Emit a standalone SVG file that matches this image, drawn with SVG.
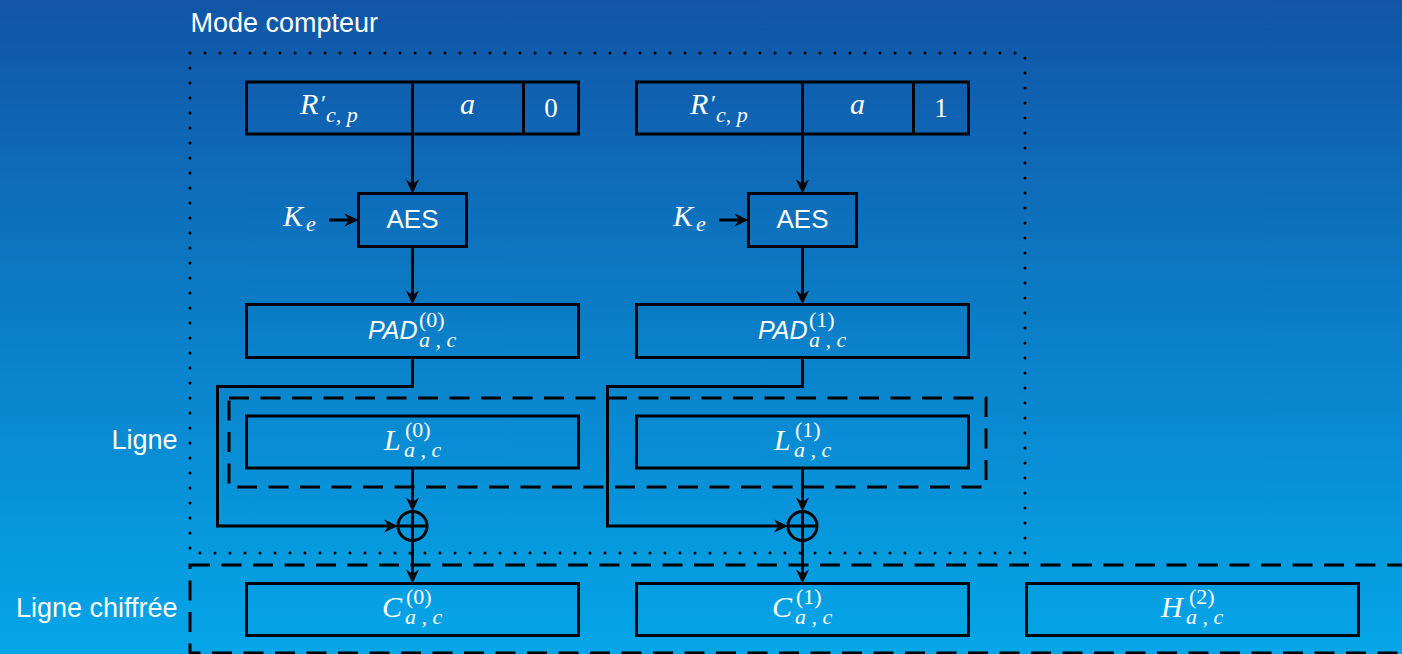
<svg xmlns="http://www.w3.org/2000/svg" width="1402" height="654" viewBox="0 0 1402 654">
  <defs>
    <linearGradient id="bg" x1="0" y1="0" x2="0" y2="1">
      <stop offset="0" stop-color="#1155a6"/>
      <stop offset="0.5" stop-color="#0b7ec8"/>
      <stop offset="1" stop-color="#04a6e8"/>
    </linearGradient>
    <marker id="arr" viewBox="-15 -7 16 14" refX="-8" refY="0" markerWidth="16" markerHeight="14" markerUnits="userSpaceOnUse" orient="auto">
      <path d="M0,0 L-14,-6.5 L-9.5,0 L-14,6.5 Z" fill="#000"/>
    </marker>
    <style>
      .box { fill: none; stroke: #000; stroke-width: 3; }
      .wire { fill: none; stroke: #000; stroke-width: 3; }
      .arrow { fill: none; stroke: #000; stroke-width: 3; marker-end: url(#arr); }
      .dotted { fill: none; stroke: #000; stroke-width: 3; stroke-dasharray: 0 15; stroke-linecap: round; }
      .dashed { fill: none; stroke: #000; stroke-width: 3; stroke-dasharray: 20 11.5; }
      .sans { font-family: "Liberation Sans", Arial, sans-serif; fill: #fff; }
      .mi { font-family: "Liberation Serif", "Times New Roman", serif; font-style: italic; fill: #fff; }
      .mn { font-family: "Liberation Serif", "Times New Roman", serif; font-style: normal; fill: #fff; }
      .big { font-size: 30px; }
      .scr { font-size: 22px; }
    </style>
  </defs>

  <rect x="0" y="0" width="1402" height="654" fill="url(#bg)"/>

  <!-- frames -->
  <g id="frames">
    <rect class="dotted" x="190" y="53" width="835" height="500"/>
    <rect class="dashed" x="229" y="398" width="757" height="89"/>
    <rect class="dashed" x="190" y="565" width="1300" height="88"/>
    <text class="sans" x="190.5" y="32" font-size="27">Mode compteur</text>
    <text class="sans" x="177.5" y="449" font-size="27" text-anchor="end">Ligne</text>
    <text class="sans" x="177.5" y="617" font-size="27" text-anchor="end">Ligne chiffrée</text>
  </g>

  <!-- chain 0 -->
  <g id="counter0">
    <rect class="box" x="246.5" y="82" width="332" height="52"/>
    <line class="wire" x1="412.5" y1="82" x2="412.5" y2="134"/>
    <line class="wire" x1="523.5" y1="82" x2="523.5" y2="134"/>
    <text class="mi big" x="300" y="114">R<tspan class="mn" x="321" y="111" font-size="24">′</tspan><tspan class="scr" x="326" y="122">c, p</tspan></text>
    <text class="mi big" x="467.5" y="114" text-anchor="middle">a</text>
    <text class="mn" x="551" y="117" font-size="27" text-anchor="middle">0</text>
  </g>
  <g id="aes0">
    <rect class="box" x="358.5" y="193.5" width="108" height="53"/>
    <text class="sans" x="412.5" y="228" font-size="26" text-anchor="middle">AES</text>
  </g>
  <g id="key0">
    <text class="mi big" x="283" y="226">K<tspan class="scr" x="306" y="231">e</tspan></text>
  </g>
  <g id="pad0">
    <rect class="box" x="246.5" y="304.5" width="332" height="53"/>
    <text class="sans" x="368" y="339" font-size="25" font-style="italic">PAD<tspan class="mn scr" x="419" y="327">(0)</tspan><tspan class="mi scr" x="419" y="347">a , c</tspan></text>
  </g>
  <g id="line0">
    <rect class="box" x="246.5" y="416" width="332" height="52"/>
    <text class="mi big" x="384" y="450">L<tspan class="mn scr" x="405" y="437">(0)</tspan><tspan class="scr" x="404" y="457">a , c</tspan></text>
  </g>
  <g id="xor0">
    <circle class="box" cx="412.5" cy="526" r="14.5"/>
    <line class="wire" x1="398" y1="526" x2="427" y2="526"/>
    <line class="wire" x1="412.5" y1="511.5" x2="412.5" y2="540.5"/>
  </g>
  <g id="cipher0">
    <rect class="box" x="246.5" y="583.5" width="332" height="52"/>
    <text class="mi big" x="382" y="617">C<tspan class="mn scr" x="406" y="604">(0)</tspan><tspan class="scr" x="405" y="624">a , c</tspan></text>
  </g>

  <!-- chain 1 -->
  <g id="counter1">
    <rect class="box" x="636.5" y="82" width="332" height="52"/>
    <line class="wire" x1="802.5" y1="82" x2="802.5" y2="134"/>
    <line class="wire" x1="913.5" y1="82" x2="913.5" y2="134"/>
    <text class="mi big" x="690" y="114">R<tspan class="mn" x="711" y="111" font-size="24">′</tspan><tspan class="scr" x="716" y="122">c, p</tspan></text>
    <text class="mi big" x="857.5" y="114" text-anchor="middle">a</text>
    <text class="mn" x="941" y="117" font-size="27" text-anchor="middle">1</text>
  </g>
  <g id="aes1">
    <rect class="box" x="748.5" y="193.5" width="108" height="53"/>
    <text class="sans" x="802.5" y="228" font-size="26" text-anchor="middle">AES</text>
  </g>
  <g id="key1">
    <text class="mi big" x="673" y="226">K<tspan class="scr" x="696" y="231">e</tspan></text>
  </g>
  <g id="pad1">
    <rect class="box" x="636.5" y="304.5" width="332" height="53"/>
    <text class="sans" x="758" y="339" font-size="25" font-style="italic">PAD<tspan class="mn scr" x="809" y="327">(1)</tspan><tspan class="mi scr" x="809" y="347">a , c</tspan></text>
  </g>
  <g id="line1">
    <rect class="box" x="636.5" y="416" width="332" height="52"/>
    <text class="mi big" x="774" y="450">L<tspan class="mn scr" x="795" y="437">(1)</tspan><tspan class="scr" x="794" y="457">a , c</tspan></text>
  </g>
  <g id="xor1">
    <circle class="box" cx="802.5" cy="526" r="14.5"/>
    <line class="wire" x1="788" y1="526" x2="817" y2="526"/>
    <line class="wire" x1="802.5" y1="511.5" x2="802.5" y2="540.5"/>
  </g>
  <g id="cipher1">
    <rect class="box" x="636.5" y="583.5" width="332" height="52"/>
    <text class="mi big" x="772" y="617">C<tspan class="mn scr" x="796" y="604">(1)</tspan><tspan class="scr" x="795" y="624">a , c</tspan></text>
  </g>

  <!-- tag block -->
  <g id="tag2">
    <rect class="box" x="1026.5" y="583.5" width="332" height="52"/>
    <text class="mi big" x="1161" y="617">H<tspan class="mn scr" x="1189" y="604">(2)</tspan><tspan class="scr" x="1186" y="624">a , c</tspan></text>
  </g>

  <!-- connectors -->
  <g id="connectors">
    <path class="arrow" d="M412.5,134 V185.5"/>
    <path class="arrow" d="M412.5,246.5 V296.5"/>
    <path class="arrow" d="M329,220 H350.5"/>
    <path class="arrow" d="M412.5,357.5 V386.5 H217.5 V526 H390"/>
    <path class="arrow" d="M412.5,468 V503.5"/>
    <path class="arrow" d="M412.5,540.5 V575.5"/>

    <path class="arrow" d="M802.5,134 V185.5"/>
    <path class="arrow" d="M802.5,246.5 V296.5"/>
    <path class="arrow" d="M719,220 H740.5"/>
    <path class="arrow" d="M802.5,357.5 V386.5 H607.5 V526 H780"/>
    <path class="arrow" d="M802.5,468 V503.5"/>
    <path class="arrow" d="M802.5,540.5 V575.5"/>
  </g>
</svg>
